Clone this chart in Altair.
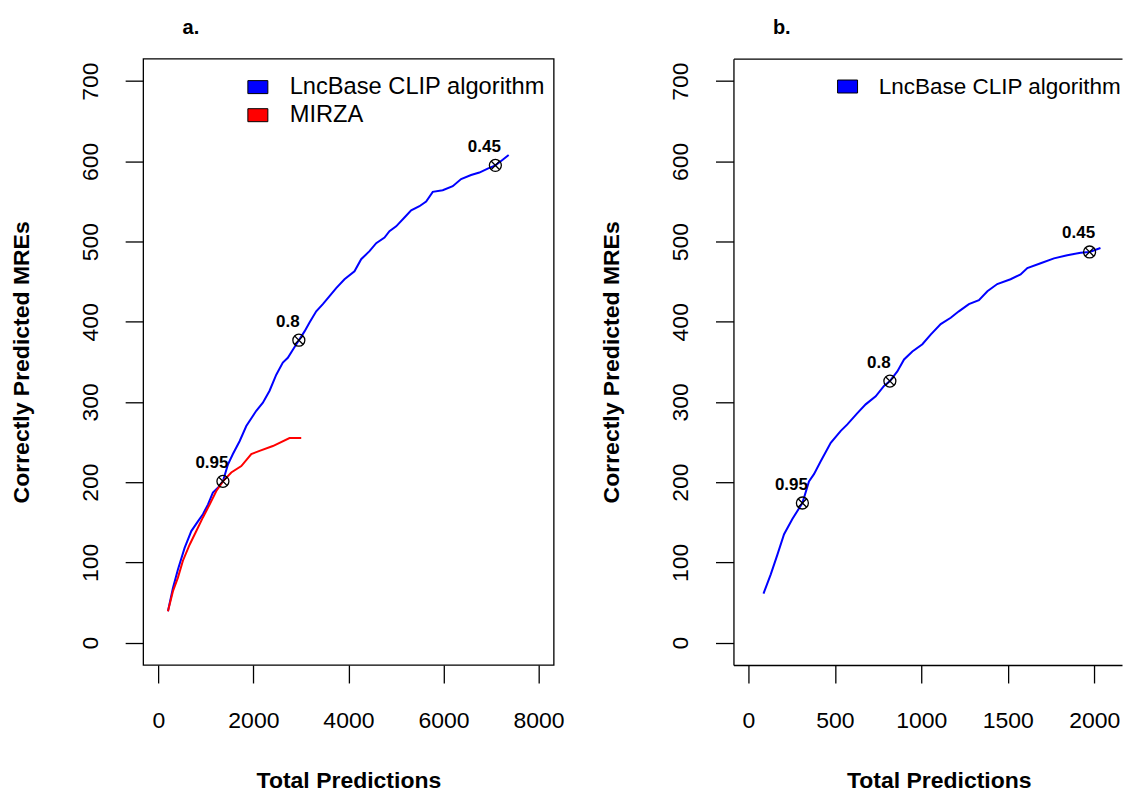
import altair as alt
import pandas as pd

# ---------------- data ----------------
a_lnc_x = [202, 307, 412, 553, 694, 833, 938, 1043, 1148, 1253, 1359, 1464, 1569, 1710, 1851, 2061, 2200,
           2341, 2482, 2620, 2725, 2831, 2957, 3077, 3182, 3323, 3462, 3603, 3743, 3918, 4128, 4269, 4444,
           4585, 4760, 4864, 5005, 5180, 5321, 5495, 5636, 5775, 5985, 6196, 6372, 6582, 6757, 6932, 7093,
           7247, 7373]
a_lnc_y = [39, 68, 91, 118, 139, 151, 160, 172, 187, 193, 201, 222, 235, 251, 270, 289, 299,
           314, 334, 349, 355, 365, 377, 388, 399, 413, 422, 432, 442, 453, 463, 478, 488,
           498, 505, 513, 519, 530, 539, 544, 550, 562, 564, 569, 578, 583, 586, 591, 595,
           602, 608]
a_mirza_x = [202, 307, 412, 517, 658, 799, 938, 1079, 1220, 1359, 1535, 1746, 1956, 2130, 2410, 2761, 3007]
a_mirza_y = [39, 64, 81, 102, 122, 139, 156, 172, 189, 201, 212, 220, 235, 239, 245, 255, 255]
b_lnc_x = [87, 129, 168, 206, 254, 312, 350, 379, 418, 476, 534, 572, 630, 678, 736, 784, 818, 861, 900,
           948, 1006, 1054, 1112, 1170, 1217, 1275, 1333, 1382, 1439, 1516, 1574, 1613, 1690, 1767, 1844,
           1921, 1973, 2036]
b_lnc_y = [61, 85, 110, 135, 154, 174, 201, 210, 226, 249, 264, 272, 286, 297, 307, 320, 326, 338, 353,
           363, 372, 384, 397, 405, 413, 422, 427, 438, 447, 453, 459, 467, 473, 479, 483,
           486, 487, 492]
mark_labels = ["0.95", "0.8", "0.45"]
a_mark_x = [1359, 2957, 7093]
a_mark_y = [201, 377, 595]
b_mark_x = [312, 818, 1973]
b_mark_y = [174, 326, 487]

series_names = ["LncBase CLIP algorithm", "MIRZA"]
series_colors = ["#0000FF", "#FF0000"]
y_ticks = [0, 100, 200, 300, 400, 500, 600, 700]
a_x_ticks = [0, 2000, 4000, 6000, 8000]
b_x_ticks = [0, 500, 1000, 1500, 2000]

FONT = "Liberation Sans"
RECT = "M-1,-0.65H1V0.65H-1Z"
XSHAPE = "M-0.72,-0.72L0.72,0.72M-0.72,0.72L0.72,-0.72"

H = 607
WA = 411
WB = 389


def line_frame(pairs):
    rows = []
    for name, xs, ys in pairs:
        for x, y in zip(xs, ys):
            rows.append({"series": name, "x": x, "y": y})
    return pd.DataFrame(rows)


def panel(line_df, mark_x, mark_y, xdom, xticks, leg_dom, leg_rng, letter, W, framed, leg_font):
    xaxis = dict(values=xticks, format="d", title="Total Predictions", orient="bottom",
                 titleFont=FONT, titleFontSize=23, titleFontWeight="bold", titleColor="black",
                 titleX=WA / 2, titleY=123, titleAlign="center", titleBaseline="alphabetic",
                 labelFont=FONT, labelFontSize=23, labelColor="black", labelAngle=0,
                 labelAlign="center", labelBaseline="alphabetic", labelPadding=44.5,
                 labelFlush=False, labelOverlap=False,
                 tickSize=18, tickColor="black", tickWidth=1.3, grid=False)
    yaxis = dict(values=y_ticks, format="d", title="Correctly Predicted MREs",
                 titleFont=FONT, titleFontSize=23, titleFontWeight="bold", titleColor="black",
                 titleAngle=270, titleAlign="center", titleBaseline="alphabetic",
                 titleX=-114.6, titleY=H / 2,
                 labelFont=FONT, labelFontSize=23, labelColor="black", labelAngle=270,
                 labelAlign="center", labelBaseline="alphabetic", labelPadding=28,
                 labelFlush=False, labelOverlap=False,
                 tickSize=18, tickColor="black", tickWidth=1.3, grid=False)
    if framed:
        xaxis["domain"] = False
        yaxis["domain"] = False
    else:
        xaxis.update(domain=True, domainColor="black", domainWidth=1.3)
        yaxis.update(domain=True, domainColor="black", domainWidth=1.3)

    xscale = alt.Scale(domain=xdom, nice=False, zero=False)
    yscale = alt.Scale(domain=[-28, 728], nice=False, zero=False)
    xenc = alt.X("x:Q", scale=xscale, axis=alt.Axis(**xaxis))
    yenc = alt.Y("y:Q", scale=yscale, axis=alt.Axis(**yaxis))
    # in the un-framed panel the bottom axis lives on the line layer only
    xother = xenc if framed else alt.X("x:Q", scale=xscale, axis=None)

    lines = alt.Chart(line_df).mark_line(strokeWidth=2, clip=True).encode(
        x=xenc, y=yenc,
        stroke=alt.Stroke("series:N", scale=alt.Scale(range=leg_rng), legend=None))

    # layer that only carries the filled-box legend
    legend_layer = alt.Chart(line_df).transform_filter("false").mark_point(
        filled=True, shape=RECT, size=400, stroke="black", strokeWidth=1, opacity=1).encode(
        x=xother, y=yenc,
        fill=alt.Fill("series:N", scale=alt.Scale(domain=leg_dom, range=leg_rng), title=None,
                      legend=alt.Legend(orient="none", legendX=103, legendY=16.6, padding=0,
                                        symbolType=RECT, symbolSize=400, symbolStrokeColor="black",
                                        symbolStrokeWidth=1, symbolOpacity=1,
                                        labelFont=FONT, labelFontSize=leg_font, labelColor="black",
                                        labelOffset=20, labelLimit=500, rowPadding=3.1)))

    mdf = pd.DataFrame({"x": mark_x, "y": mark_y, "label": mark_labels})
    circ = alt.Chart(mdf).mark_point(shape="circle", size=144, filled=False, stroke="black",
                                     strokeWidth=1.3, opacity=1).encode(x=xother, y=yenc)
    cross_x = xenc
    if not framed:
        cross_x = alt.X("x:Q", scale=xscale,
                        axis=alt.Axis(orient="top", labels=False, ticks=False, title=None, grid=False,
                                      domain=True, domainColor="black", domainWidth=1.3))
    cross = alt.Chart(mdf).mark_point(shape=XSHAPE, size=144, filled=False, stroke="black",
                                      strokeWidth=1.3, opacity=1).encode(x=cross_x, y=yenc)
    txt = alt.Chart(mdf).mark_text(font=FONT, fontSize=17, fontWeight="bold", color="black",
                                   align="center", baseline="alphabetic", dx=-11, dy=-13.5).encode(
        x=xother, y=yenc, text="label:N")

    props = dict(width=W, height=H,
                 title=alt.TitleParams(letter, anchor="start", frame="group", dx=39.5, offset=4.7,
                                       font=FONT, fontSize=20, fontWeight="bold", color="black",
                                       baseline="alphabetic"))
    if not framed:
        props["view"] = alt.ViewBackground(stroke="transparent")
    return alt.layer(lines, legend_layer, circ, cross, txt).properties(**props)


df_a = line_frame([("LncBase CLIP algorithm", a_lnc_x, a_lnc_y), ("MIRZA", a_mirza_x, a_mirza_y)])
df_b = line_frame([("LncBase CLIP algorithm", b_lnc_x, b_lnc_y)])

pa = panel(df_a, a_mark_x, a_mark_y, [-320, 8320], a_x_ticks, series_names, series_colors, "a.",
           WA, True, 23.7)
pb = panel(df_b, b_mark_x, b_mark_y, [-86.7, -86.7 + WB / 0.1731], b_x_ticks, series_names[:1],
           series_colors[:1], "b.", WB, False, 22.5)

chart = alt.hconcat(pa, pb, spacing=34).resolve_scale(
    x="independent", y="independent", stroke="independent", fill="independent"
).resolve_legend(fill="independent").properties(
    padding={"left": 1.3, "top": 8.3, "right": 0, "bottom": 0},
    background="white",
).configure_view(stroke="black", strokeWidth=1.3)

chart.save("out.html", embed_options={"renderer": "svg", "actions": False})
